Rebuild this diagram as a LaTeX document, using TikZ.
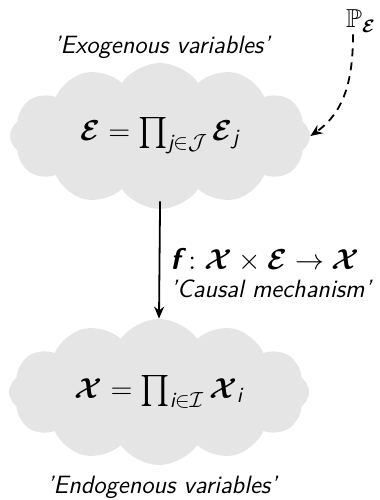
\documentclass[tikz,border=0pt]{standalone}
\usepackage{amsmath,amssymb,bm}
\usetikzlibrary{shapes.symbols,arrows.meta}
\newcommand{\sit}[1]{\text{\sffamily\itshape #1}}
\begin{document}
\begin{tikzpicture}[x=0.5pt,y=-0.5pt,
  cloudbox/.style={cloud, cloud puffs=12, cloud puff arc=110, cloud ignores aspect, fill=black!10, draw=none,
    minimum width=150pt, minimum height=73pt, inner sep=0pt, font=\fontsize{15.5}{18}\selectfont},
  lab/.style={font=\sffamily\itshape\fontsize{12.5}{15}\selectfont, inner sep=1pt},
  arr/.style={line width=0.9pt, -{Stealth[length=6pt,width=5pt]}}]
\useasboundingbox (0,0) rectangle (380,500);
\node[cloudbox] (exo) at (160,136) {$\bm{\mathcal{E}}=\prod_{\sit{j}\in\mathcal{J}}\bm{\mathcal{E}}_{\sit{j}}$};
\node[cloudbox] (endo) at (159,392) {$\bm{\mathcal{X}}=\prod_{\sit{i}\in\mathcal{I}}\bm{\mathcal{X}}_{\sit{i}}$};
\node[lab] (exolab) at (162,47) {'Exogenous variables'};
\node[lab] (endolab) at (162,487) {'Endogenous variables'};
\node[inner sep=1pt, font=\fontsize{13}{15}\selectfont] (P) at (361,21) {$\mathbb{P}_{\bm{\mathcal{E}}}$};
\draw[arr, shorten <=-4pt] (exo.south) -- (endo.north);
\node[anchor=west, inner sep=1pt, font=\fontsize{15}{18}\selectfont] (flab) at (168,260) {$\text{\sffamily\bfseries\itshape f}:\bm{\mathcal{X}}\times\bm{\mathcal{E}}\to\bm{\mathcal{X}}$};
\node[lab, anchor=west] (mech) at (168,289) {'Causal mechanism'};
\draw[arr, dashed, dash pattern=on 4pt off 3pt] ([xshift=-4pt]P.south) to[out=-90, in=35] (exo.east);
\end{tikzpicture}
\end{document}
